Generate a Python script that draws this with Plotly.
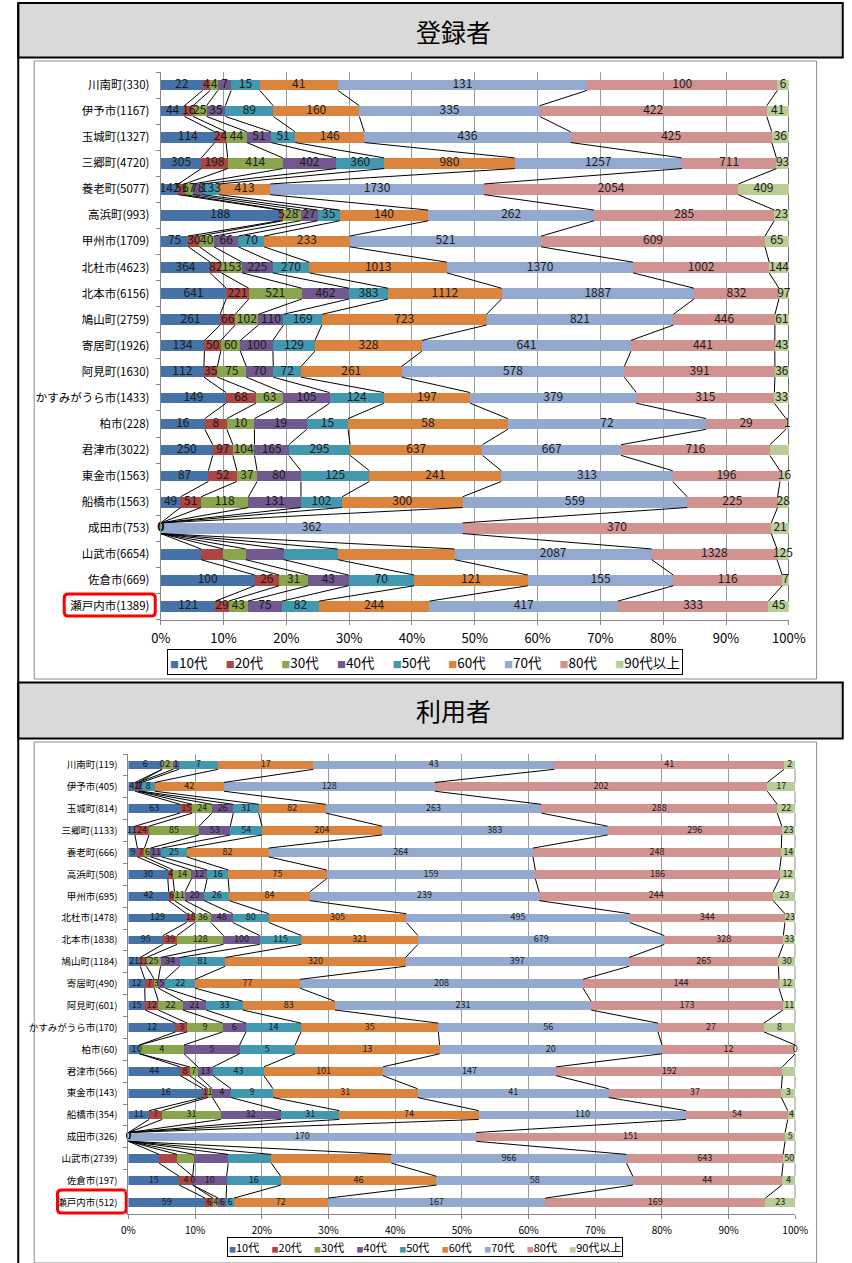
import plotly.graph_objects as go

W, H = 852, 1263

ages = ["10代", "20代", "30代", "40代", "50代", "60代", "70代", "80代", "90代以上"]
colors = ["#4572A7", "#AA4643", "#89A54E", "#71588F", "#4198AF",
          "#DB843D", "#93A9CF", "#D19392", "#B9CD96"]

# 登録者
reg_cities = ["川南町(330)", "伊予市(1167)", "玉城町(1327)", "三郷町(4720)", "養老町(5077)",
              "高浜町(993)", "甲州市(1709)", "北杜市(4623)", "北本市(6156)", "鳩山町(2759)",
              "寄居町(1926)", "阿見町(1630)", "かすみがうら市(1433)", "柏市(228)", "君津市(3022)",
              "東金市(1563)", "船橋市(1563)", "成田市(753)", "山武市(6654)", "佐倉市(669)",
              "瀬戸内市(1389)"]
reg_10s = [22, 44, 114, 305, 142, 188, 75, 364, 641, 261, 134, 112, 149, 16, 250, 87, 49, 0, 427, 100, 121]
reg_20s = [4, 16, 24, 198, 51, 5, 30, 82, 221, 66, 50, 35, 68, 8, 97, 52, 51, 0, 233, 26, 29]
reg_30s = [4, 25, 44, 414, 67, 28, 40, 153, 521, 102, 60, 75, 63, 10, 104, 37, 118, 0, 239, 31, 43]
reg_40s = [7, 35, 51, 402, 78, 27, 66, 225, 462, 110, 100, 70, 105, 19, 165, 80, 131, 0, 404, 43, 75]
reg_50s = [15, 89, 51, 360, 133, 35, 70, 270, 383, 169, 129, 72, 124, 15, 295, 125, 102, 0, 571, 70, 82]
reg_60s = [41, 160, 146, 980, 413, 140, 233, 1013, 1112, 723, 328, 261, 197, 58, 637, 241, 300, 0, 1240, 121, 244]
reg_70s = [131, 335, 436, 1257, 1730, 262, 521, 1370, 1887, 821, 641, 578, 379, 72, 667, 313, 559, 362, 2087, 155, 417]
reg_80s = [100, 422, 425, 711, 2054, 285, 609, 1002, 832, 446, 441, 391, 315, 29, 716, 196, 225, 370, 1328, 116, 333]
reg_90s = [6, 41, 36, 93, 409, 23, 65, 144, 97, 61, 43, 36, 33, 1, 91, 16, 28, 21, 125, 7, 45]
# (row, age) pairs shown without a data label
reg_nolabel = [(18, 0), (18, 1), (18, 2), (18, 3), (18, 4), (18, 5), (14, 8)]

# 利用者
use_cities = ["川南町(119)", "伊予市(405)", "玉城町(814)", "三郷町(1133)", "養老町(666)",
              "高浜町(508)", "甲州市(695)", "北杜市(1478)", "北本市(1838)", "鳩山町(1184)",
              "寄居町(490)", "阿見町(601)", "かすみがうら市(170)", "柏市(60)", "君津市(566)",
              "東金市(143)", "船橋市(354)", "成田市(326)", "山武市(2739)", "佐倉市(197)",
              "瀬戸内市(512)"]
use_10s = [6, 4, 63, 11, 9, 30, 42, 129, 95, 21, 12, 15, 12, 1, 44, 16, 11, 0, 126, 15, 59]
use_20s = [0, 2, 15, 24, 7, 4, 6, 18, 39, 11, 7, 12, 3, 0, 8, 1, 7, 0, 74, 4, 6]
use_30s = [2, 0, 24, 85, 6, 14, 11, 36, 128, 25, 3, 22, 9, 4, 7, 1, 31, 0, 69, 0, 4]
use_40s = [1, 2, 26, 53, 11, 12, 20, 48, 100, 34, 5, 21, 6, 5, 13, 4, 32, 0, 141, 10, 6]
use_50s = [7, 8, 31, 54, 25, 16, 26, 80, 115, 81, 22, 33, 14, 5, 43, 9, 31, 0, 177, 16, 6]
use_60s = [17, 42, 82, 204, 82, 75, 84, 305, 321, 320, 77, 83, 35, 13, 101, 31, 74, 0, 493, 46, 72]
use_70s = [43, 128, 263, 383, 264, 159, 239, 495, 679, 397, 208, 231, 56, 20, 147, 41, 110, 170, 966, 58, 167]
use_80s = [41, 202, 288, 296, 248, 186, 244, 344, 328, 265, 144, 173, 27, 12, 192, 37, 54, 151, 643, 44, 169]
use_90s = [2, 17, 22, 23, 14, 12, 23, 23, 33, 30, 12, 11, 8, 0, 11, 3, 4, 5, 50, 4, 23]
use_nolabel = [(18, 0), (18, 1), (18, 2), (18, 3), (18, 4), (18, 5), (14, 8)]

FONT = "Noto Sans CJK JP"


def px(x):
    return x / W


def py(y):
    return 1 - y / H


fig = go.Figure()


def add_chart(cities, series, nolabel, xa, ya, bar_w, label_size):
    n = len(cities)
    rows = list(range(n))
    totals = [sum(s[i] for s in series) for i in rows]
    for k, vals in enumerate(series):
        fig.add_trace(go.Bar(
            x=vals, y=rows, orientation="h", width=bar_w, name=ages[k],
            marker=dict(color=colors[k], line_width=0),
            xaxis=xa, yaxis=ya, showlegend=False, hoverinfo="skip"))

    # right edge (percent) of every segment
    ends = []
    for i in rows:
        acc, c = 0, []
        for s in series:
            acc += s[i]
            c.append(acc / totals[i] * 100)
        ends.append(c)

    # Excel-style series lines between neighbouring bars
    lx, ly = [], []
    for k in range(len(series)):
        for i in range(n - 1):
            lx += [ends[i][k], ends[i + 1][k], None]
            ly += [i + bar_w / 2, i + 1 - bar_w / 2, None]
    fig.add_trace(go.Scatter(x=lx, y=ly, mode="lines", line=dict(color="black", width=1),
                             xaxis=xa, yaxis=ya, showlegend=False, hoverinfo="skip"))

    # data labels
    tx, ty, tt = [], [], []
    for i in rows:
        start = 0
        for k, s in enumerate(series):
            if (i, k) not in nolabel:
                tx.append((start + ends[i][k]) / 2)
                ty.append(i)
                tt.append(str(s[i]))
            start = ends[i][k]
    fig.add_trace(go.Scatter(x=tx, y=ty, text=tt, mode="text", cliponaxis=False,
                             textfont=dict(size=label_size, color="#1a1a1a", family=FONT),
                             xaxis=xa, yaxis=ya, showlegend=False, hoverinfo="skip"))


add_chart(reg_cities, [reg_10s, reg_20s, reg_30s, reg_40s, reg_50s, reg_60s, reg_70s, reg_80s, reg_90s],
          reg_nolabel, "x", "y", 0.41, 12)
add_chart(use_cities, [use_10s, use_20s, use_30s, use_40s, use_50s, use_60s, use_70s, use_80s, use_90s],
          use_nolabel, "x2", "y2", 0.40, 9)


def xaxis_cfg(domain, anchor, size):
    return dict(domain=domain, anchor=anchor, range=[0, 100],
                tickvals=list(range(0, 101, 10)), ticktext=[f"{v}%" for v in range(0, 101, 10)],
                showgrid=True, gridcolor="#9a9a9a", gridwidth=1, zeroline=False,
                ticks="outside", ticklen=4, tickcolor="#868686",
                showline=True, linecolor="#868686", linewidth=1,
                tickfont=dict(size=size, color="black", family=FONT), ticklabelstandoff=3,
                fixedrange=True)


def yaxis_cfg(domain, anchor, labels, size):
    n = len(labels)
    return dict(domain=domain, anchor=anchor, range=[n - 0.5, -0.5],
                tickvals=list(range(n)), ticktext=labels, ticks="",
                minor=dict(tickvals=[i - 0.5 for i in range(n + 1)], ticks="outside",
                           ticklen=4, tickcolor="#868686", showgrid=False),
                showgrid=False, zeroline=False, showline=True, linecolor="#868686", linewidth=1,
                tickfont=dict(size=size, color="black", family=FONT), ticklabelstandoff=8,
                fixedrange=True)


shapes = []
annotations = []

# page frame: headers and panels
for y0, y1 in [(3, 57.5), (682.5, 738.5)]:
    shapes.append(dict(type="rect", xref="paper", yref="paper", x0=px(8.5), x1=px(860),
                       y0=py(y1), y1=py(y0), fillcolor="#d9d9d9",
                       line=dict(color="black", width=2), layer="below"))
shapes.append(dict(type="line", xref="paper", yref="paper", x0=px(8.5), x1=px(8.5),
                   y0=0, y1=py(3), line=dict(color="black", width=2), layer="below"))
# Excel chart-area borders
for y0, y1 in [(61, 679), (742, 1263)]:
    shapes.append(dict(type="rect", xref="paper", yref="paper", x0=px(25), x1=px(833),
                       y0=py(y1), y1=py(y0), fillcolor="white",
                       line=dict(color="#8c8c8c", width=1), layer="below"))


def rounded_box(x0, y0, x1, y1, r):
    rx, ry = r / W, r / H
    a, b, c, d = px(x0), px(x1), py(y1), py(y0)
    return (f"M{a + rx},{d} L{b - rx},{d} Q{b},{d} {b},{d - ry} L{b},{c + ry} Q{b},{c} {b - rx},{c} "
            f"L{a + rx},{c} Q{a},{c} {a},{c + ry} L{a},{d - ry} Q{a},{d} {a + rx},{d} Z")


for box in [(56, 594, 150, 616), (49, 1190, 120, 1213)]:
    shapes.append(dict(type="path", xref="paper", yref="paper", path=rounded_box(*box, 4),
                       fillcolor="white", line=dict(color="#ff0000", width=3), layer="below"))

for title, yc in [("登録者", 31), ("利用者", 710)]:
    annotations.append(dict(text=title, x=px(458), y=py(yc), xref="paper", yref="paper",
                            xanchor="center", yanchor="middle", showarrow=False,
                            font=dict(size=25, color="black", family=FONT)))


def legend_text(sq, gap):
    parts = [f"<span style='font-size:{sq}px;color:{c}'>■</span>{a}" for a, c in zip(ages, colors)]
    return ("\u00a0" * gap).join(parts)


annotations.append(dict(text=legend_text(9, 6), x=px(429), y=py(662), xref="paper", yref="paper",
                        xanchor="center", yanchor="middle", showarrow=False,
                        font=dict(size=13.5, color="black", family=FONT),
                        bordercolor="black", borderwidth=1, borderpad=2, bgcolor="white"))
annotations.append(dict(text=legend_text(7, 5), x=px(429), y=py(1247), xref="paper", yref="paper",
                        xanchor="center", yanchor="middle", showarrow=False,
                        font=dict(size=11, color="black", family=FONT),
                        bordercolor="black", borderwidth=1, borderpad=1, bgcolor="white"))

fig.update_layout(
    width=W, height=H, margin=dict(l=0, r=0, t=0, b=0), autosize=False,
    paper_bgcolor="white", plot_bgcolor="#d9d9d9",
    barmode="stack", barnorm="percent",
    font=dict(family=FONT, color="black"),
    xaxis=xaxis_cfg([px(155.7), px(804.3)], "y", 13),
    yaxis=yaxis_cfg([py(619.5), py(72)], "x", reg_cities, 11.5),
    xaxis2=xaxis_cfg([px(122.3), px(811)], "y2", 10),
    yaxis2=yaxis_cfg([py(1213.5), py(754)], "x2", use_cities, 9.5),
    shapes=shapes, annotations=annotations, showlegend=False,
)

fig.write_html("out.html", config={"displayModeBar": False, "responsive": False},
               post_script="document.body.style.margin='0';document.body.style.overflow='hidden';")
